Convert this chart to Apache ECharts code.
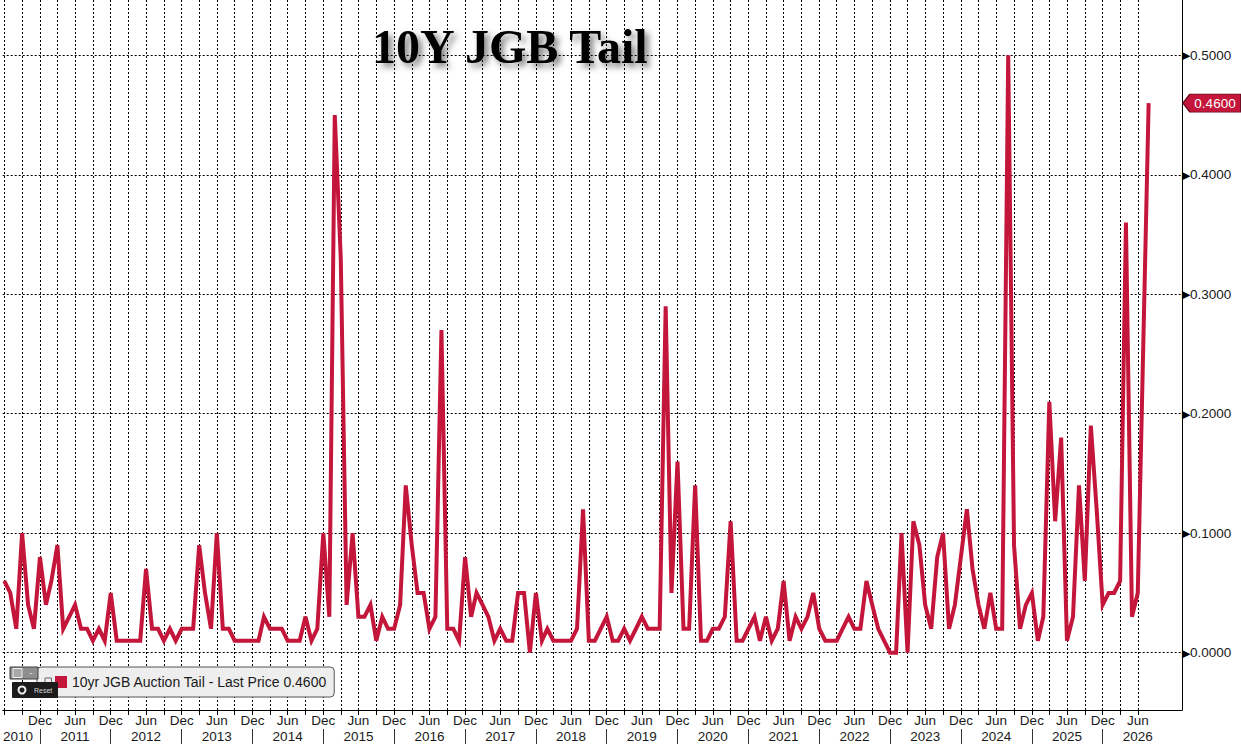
<!DOCTYPE html>
<html>
<head>
<meta charset="utf-8">
<title>10Y JGB Tail</title>
<script src="https://cdn.jsdelivr.net/npm/echarts@6/dist/echarts.min.js"></script>
<style>
  html, body { margin: 0; padding: 0; background: #fff; }
  #chart { width: 1241px; height: 744px; }
</style>
</head>
<body>
<div id="chart"></div>
<script>
// ======================
// DATA
// ======================

// first auction in view (year, month); one point per month after that
const firstMonth = [2010, 7];

// 10yr JGB auction tail, month by month
const tailValues = [
    /* 2010 Jul-Dec */ 0.06, 0.05, 0.02, 0.10, 0.04, 0.02,
    /* 2011 */ 0.08, 0.04, 0.06, 0.09, 0.02, 0.03, 0.04, 0.02, 0.02, 0.01, 0.02, 0.01,
    /* 2012 */ 0.05, 0.01, 0.01, 0.01, 0.01, 0.01, 0.07, 0.02, 0.02, 0.01, 0.02, 0.01,
    /* 2013 */ 0.02, 0.02, 0.02, 0.09, 0.05, 0.02, 0.10, 0.02, 0.02, 0.01, 0.01, 0.01,
    /* 2014 */ 0.01, 0.01, 0.03, 0.02, 0.02, 0.02, 0.01, 0.01, 0.01, 0.03, 0.01, 0.02,
    /* 2015 */ 0.10, 0.03, 0.45, 0.33, 0.04, 0.10, 0.03, 0.03, 0.04, 0.01, 0.03, 0.02,
    /* 2016 */ 0.02, 0.04, 0.14, 0.09, 0.05, 0.05, 0.02, 0.03, 0.27, 0.02, 0.02, 0.01,
    /* 2017 */ 0.08, 0.03, 0.05, 0.04, 0.03, 0.01, 0.02, 0.01, 0.01, 0.05, 0.05, 0.00,
    /* 2018 */ 0.05, 0.01, 0.02, 0.01, 0.01, 0.01, 0.01, 0.02, 0.12, 0.01, 0.01, 0.02,
    /* 2019 */ 0.03, 0.01, 0.01, 0.02, 0.01, 0.02, 0.03, 0.02, 0.02, 0.02, 0.29, 0.05,
    /* 2020 */ 0.16, 0.02, 0.02, 0.14, 0.01, 0.01, 0.02, 0.02, 0.03, 0.11, 0.01, 0.01,
    /* 2021 */ 0.02, 0.03, 0.01, 0.03, 0.01, 0.02, 0.06, 0.01, 0.03, 0.02, 0.03, 0.05,
    /* 2022 */ 0.02, 0.01, 0.01, 0.01, 0.02, 0.03, 0.02, 0.02, 0.06, 0.04, 0.02, 0.01,
    /* 2023 */ 0.00, 0.00, 0.10, 0.00, 0.11, 0.09, 0.04, 0.02, 0.08, 0.10, 0.02, 0.04,
    /* 2024 */ 0.08, 0.12, 0.07, 0.04, 0.02, 0.05, 0.02, 0.02, 0.50, 0.09, 0.02, 0.04,
    /* 2025 */ 0.05, 0.01, 0.03, 0.21, 0.11, 0.18, 0.01, 0.03, 0.14, 0.06, 0.19, 0.12,
    /* 2026 Jan-Jul */ 0.04, 0.05, 0.05, 0.06, 0.36, 0.03, 0.05
];

// latest auction (year, month, day) and its tail
const lastAuction = [2026, 8, 26];
const lastValue = 0.46;

// axis ranges
const xRange = [[2010, 6, 23], [2027, 2, 14]];
const yMin = -0.048;
const yMax = 0.5463;

// tick labels
const yTicks = [0, 0.1, 0.2, 0.3, 0.4, 0.5];
const halfYearNames = { 0: 'Dec', 6: 'Jun' };   // month label sits on the boundary after it
const years = [2010, 2011, 2012, 2013, 2014, 2015, 2016, 2017, 2018,
               2019, 2020, 2021, 2022, 2023, 2024, 2025, 2026];

const seriesName = '10yr JGB Auction Tail - Last Price 0.4600';
const titleText = '10Y JGB Tail';

// ======================
// HELPERS
// ======================

const ts = (y, m, d) => new Date(y, m - 1, d || 1).getTime();

const RED = '#c4163a';
const FONT = '"Liberation Sans", Arial, sans-serif';

const auctionData = tailValues.map((v, i) => [ts(firstMonth[0], firstMonth[1] + i), v]);
auctionData.push([ts(...lastAuction), lastValue]);

// quarterly grid, Jul 2010 .. Jul 2026
const quarterTicks = [];
for (let i = 0; i <= 64; i++) quarterTicks.push(ts(2010, 7 + 3 * i));

// Dec / Jun labels, Jan 2011 .. Jul 2026
const halfYearTicks = [];
for (let i = 0; i <= 31; i++) halfYearTicks.push(ts(2011, 1 + 6 * i));

// year labels centred mid-year (2010 nudged inside), separators on Jan 1
const yearLabelTicks = years.map(y => (y === 2010 ? ts(2010, 9, 10) : ts(y, 7)));
const yearSeparators = years.slice(1).map(y => ts(y, 1));

const xMin = ts(...xRange[0]);
const xMax = ts(...xRange[1]);

// ======================
// CHART
// ======================

const chart = echarts.init(document.getElementById('chart'), null, { renderer: 'svg' });

const dotted = { color: '#000', width: 1, type: [2, 2] };

chart.setOption({
    animation: false,
    backgroundColor: '#fff',
    grid: { left: 0, right: 59, top: 0, bottom: 34 },
    legend: {
        left: 37,
        top: 667,
        data: [{ name: seriesName, icon: 'rect' }],
        itemWidth: 12,
        itemHeight: 12,
        padding: [8, 7, 8, 18],
        backgroundColor: '#eeeeee',
        borderColor: '#555',
        borderWidth: 1,
        borderRadius: 4,
        selectedMode: false,
        textStyle: { fontFamily: FONT, fontSize: 14, color: '#1a1a1a' }
    },
    xAxis: [
        {
            // dates as epoch ms on a linear axis
            type: 'value',
            min: xMin,
            max: xMax,
            axisLine: { show: true, onZero: false, lineStyle: { color: '#000', width: 1 } },
            axisTick: { show: true, length: 5, customValues: quarterTicks, lineStyle: { color: '#000' } },
            splitLine: { show: true, lineStyle: dotted },
            axisLabel: {
                customValues: halfYearTicks,
                formatter: v => halfYearNames[new Date(v).getMonth()] || '',
                margin: 3,
                fontFamily: FONT,
                fontSize: 13.5,
                color: '#1a1a1a'
            }
        },
        {
            type: 'value',
            min: xMin,
            max: xMax,
            position: 'bottom',
            offset: 19,
            axisLine: { show: false, onZero: false },
            axisTick: { show: true, length: 15, customValues: yearSeparators, lineStyle: { color: '#333' } },
            splitLine: { show: false },
            axisLabel: {
                customValues: yearLabelTicks,
                formatter: v => String(new Date(v).getFullYear()),
                margin: 0,
                fontFamily: FONT,
                fontSize: 13.5,
                color: '#1a1a1a'
            }
        }
    ],
    yAxis: {
        type: 'value',
        position: 'right',
        min: yMin,
        max: yMax,
        axisLine: { show: true, lineStyle: { color: '#000', width: 1 } },
        axisTick: { show: false, customValues: yTicks },
        splitLine: { show: true, lineStyle: dotted },
        axisLabel: {
            customValues: yTicks,
            margin: 0,
            formatter: v => '{a|▶}' + v.toFixed(4),
            fontFamily: FONT,
            fontSize: 13.5,
            color: '#1a1a1a',
            rich: { a: { fontSize: 11, color: '#000', padding: [0, 0, 0, 0] } }
        }
    },
    series: [
        {
            name: seriesName,
            type: 'line',
            data: auctionData,
            showSymbol: false,
            symbol: 'none',
            clip: true,
            color: RED,
            lineStyle: { color: RED, width: 4, join: 'miter' },
            itemStyle: { color: RED },
            z: 5,
            markPoint: {
                silent: true,
                symbol: 'path://M0,9 L7,0 L58,0 L58,18 L7,18 Z',
                symbolSize: [58, 18],
                symbolKeepAspect: false,
                symbolOffset: [30, 0],
                itemStyle: { color: RED, borderColor: '#6d0a1f', borderWidth: 1 },
                label: {
                    show: true,
                    position: 'inside',
                    offset: [3, 0],
                    formatter: p => p.value.toFixed(4),
                    color: '#fff',
                    fontFamily: FONT,
                    fontSize: 13.5
                },
                data: [{ coord: [xMax, lastValue], value: lastValue }]
            }
        }
    ],
    graphic: [
        {
            type: 'text',
            left: 372,
            top: 22,
            z: 10,
            style: {
                text: titleText,
                font: 'bold 48px "Liberation Serif", "Times New Roman", serif',
                fill: '#000',
                textShadowColor: 'rgba(0,0,0,0.5)',
                textShadowBlur: 6,
                textShadowOffsetX: 4,
                textShadowOffsetY: 4
            }
        },
        // chart widget button
        {
            type: 'rect', z: 20,
            shape: { x: 10, y: 667, width: 28, height: 12 },
            style: { fill: '#8e8e8e', stroke: '#3c3c3c', lineWidth: 1 }
        },
        {
            type: 'rect', z: 21,
            shape: { x: 13, y: 668.5, width: 9, height: 9 },
            style: { fill: '#a8a8a8', stroke: '#f2f2f2', lineWidth: 1 }
        },
        {
            type: 'text', z: 21,
            style: { text: '-', x: 31, y: 673, font: '9px ' + FONT, fill: '#eee', align: 'center', verticalAlign: 'middle' }
        },
        // small expand box
        {
            type: 'rect', z: 20,
            shape: { x: 45, y: 678, width: 6.5, height: 7 },
            style: { fill: '#eee', stroke: '#666', lineWidth: 1 }
        },
        // reset tooltip
        {
            type: 'rect', z: 22,
            shape: { x: 12, y: 682, width: 46, height: 16, r: 1 },
            style: { fill: '#1c1c1c' }
        },
        {
            type: 'circle', z: 23,
            shape: { cx: 22, cy: 690, r: 3.5 },
            style: { fill: '#1c1c1c', stroke: '#f0f0f0', lineWidth: 2 }
        },
        {
            type: 'text', z: 23,
            style: { text: 'Reset', x: 34, y: 690.5, font: '7px ' + FONT, fill: '#d8d8d8', verticalAlign: 'middle' }
        }
    ]
});
</script>
</body>
</html>
